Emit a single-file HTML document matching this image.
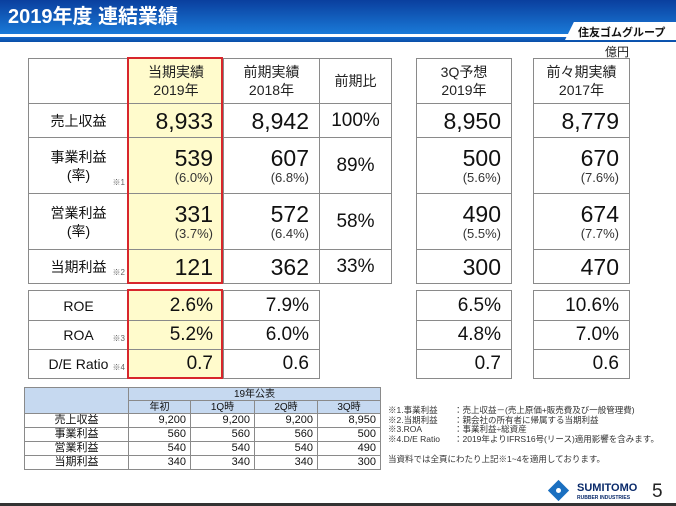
<!DOCTYPE html>
<html><head><meta charset="utf-8"><style>
body{margin:0;width:676px;height:506px;position:relative;background:#fff;overflow:hidden;font-family:"Liberation Sans","Noto Sans CJK JP",sans-serif;color:#111}
.a{position:absolute}
table{position:absolute;border-collapse:collapse;table-layout:fixed}
td{border:1px solid #8a8a8a;padding:0;box-sizing:border-box}
.m td{font-size:23px;text-align:right;padding-right:10px;line-height:24px}
.m td.p{font-size:19px}
.m td.l{font-size:14px;text-align:center;padding:0;line-height:18px;position:relative}
.m td.h{font-size:14px;text-align:center;padding:0;line-height:18px;color:#222}
.m td.r{text-align:center;padding:0;font-size:19px}
.s{font-size:13px;color:#333;display:block;line-height:16px}
.y{background:#fffbcc}
.n{position:absolute;font-size:8px;color:#666;right:3px;bottom:1px}
.b td{font-size:11px;text-align:right;padding-right:4px;line-height:11px;overflow:hidden}
.b td.l{text-align:center;padding:0;font-size:11px}
.b td.h{background:#c6d9f0;text-align:center;padding:0;font-size:10px}
</style></head><body>
<div class="a" style="left:0;top:0;width:676px;height:34px;background:linear-gradient(#0a3f9e,#1a7ad8)"></div>
<div class="a" style="left:0;top:37px;width:676px;height:5px;background:linear-gradient(#1468c8,#0a4fa8)"></div>
<div class="a" style="left:8px;top:5px;color:#fff;font-size:20px;font-weight:bold;line-height:24px">2019年度 連結業績</div>
<div class="a" style="left:565px;top:22px;width:111px;height:18px;background:#fff;clip-path:polygon(8% 0,100% 0,100% 100%,0 100%)"></div>
<div class="a" style="left:578px;top:24px;font-size:11px;font-weight:bold;color:#111">住友ゴムグループ</div>
<div class="a" style="left:605px;top:43px;font-size:12px;color:#222">億円</div>

<table class="m" style="left:28px;top:58px;width:363px">
<colgroup><col style="width:100px"><col style="width:95px"><col style="width:96px"><col style="width:72px"></colgroup>
<tr style="height:45px"><td></td><td class="h y">当期実績<br>2019年</td><td class="h">前期実績<br>2018年</td><td class="h">前期比</td></tr>
<tr style="height:34px"><td class="l">売上収益</td><td class="y">8,933</td><td>8,942</td><td class="r">100%</td></tr>
<tr style="height:56px"><td class="l">事業利益<br>(率)<span class="n">※1</span></td><td class="y">539<span class="s">(6.0%)</span></td><td>607<span class="s">(6.8%)</span></td><td class="r">89%</td></tr>
<tr style="height:56px"><td class="l">営業利益<br>(率)</td><td class="y">331<span class="s">(3.7%)</span></td><td>572<span class="s">(6.4%)</span></td><td class="r">58%</td></tr>
<tr style="height:34px"><td class="l">当期利益<span class="n">※2</span></td><td class="y">121</td><td>362</td><td class="r">33%</td></tr>
</table>
<table class="m" style="left:28px;top:290px;width:291px">
<colgroup><col style="width:100px"><col style="width:95px"><col style="width:96px"></colgroup>
<tr style="height:30px"><td class="l">ROE</td><td class="y p">2.6%</td><td class="p">7.9%</td></tr>
<tr style="height:29px"><td class="l">ROA<span class="n">※3</span></td><td class="y p">5.2%</td><td class="p">6.0%</td></tr>
<tr style="height:29px"><td class="l">D/E Ratio<span class="n">※4</span></td><td class="y p">0.7</td><td class="p">0.6</td></tr>
</table>
<div class="a" style="left:127px;top:57px;width:96px;height:227px;border:2px solid #d8262c;box-sizing:border-box"></div>
<div class="a" style="left:127px;top:289px;width:96px;height:90px;border:2px solid #d8262c;box-sizing:border-box"></div>

<table class="m" style="left:416px;top:58px;width:96px">
<tr style="height:45px"><td class="h">3Q予想<br>2019年</td></tr>
<tr style="height:34px"><td>8,950</td></tr>
<tr style="height:56px"><td>500<span class="s">(5.6%)</span></td></tr>
<tr style="height:56px"><td>490<span class="s">(5.5%)</span></td></tr>
<tr style="height:34px"><td>300</td></tr>
</table>
<table class="m" style="left:416px;top:290px;width:96px">
<tr style="height:30px"><td class="p">6.5%</td></tr>
<tr style="height:29px"><td class="p">4.8%</td></tr>
<tr style="height:29px"><td class="p">0.7</td></tr>
</table>
<table class="m" style="left:533px;top:58px;width:97px">
<tr style="height:45px"><td class="h">前々期実績<br>2017年</td></tr>
<tr style="height:34px"><td>8,779</td></tr>
<tr style="height:56px"><td>670<span class="s">(7.6%)</span></td></tr>
<tr style="height:56px"><td>674<span class="s">(7.7%)</span></td></tr>
<tr style="height:34px"><td>470</td></tr>
</table>
<table class="m" style="left:533px;top:290px;width:97px">
<tr style="height:30px"><td class="p">10.6%</td></tr>
<tr style="height:29px"><td class="p">7.0%</td></tr>
<tr style="height:29px"><td class="p">0.6</td></tr>
</table>

<table class="b" style="left:24px;top:387px;width:356px">
<colgroup><col style="width:104px"><col style="width:62px"><col style="width:64px"><col style="width:63px"><col style="width:63px"></colgroup>
<tr style="height:13px"><td class="h" rowspan="2"></td><td class="h" colspan="4">19年公表</td></tr>
<tr style="height:13px"><td class="h">年初</td><td class="h">1Q時</td><td class="h">2Q時</td><td class="h">3Q時</td></tr>
<tr style="height:14px"><td class="l">売上収益</td><td>9,200</td><td>9,200</td><td>9,200</td><td>8,950</td></tr>
<tr style="height:14px"><td class="l">事業利益</td><td>560</td><td>560</td><td>560</td><td>500</td></tr>
<tr style="height:14px"><td class="l">営業利益</td><td>540</td><td>540</td><td>540</td><td>490</td></tr>
<tr style="height:14px"><td class="l">当期利益</td><td>340</td><td>340</td><td>340</td><td>300</td></tr>
</table>

<div class="a" style="left:388px;top:406px;font-size:8.5px;line-height:9.7px;color:#333;white-space:nowrap">
<div><span style="display:inline-block;width:66px">※1.事業利益</span>：売上収益－(売上原価+販売費及び一般管理費)</div>
<div><span style="display:inline-block;width:66px">※2.当期利益</span>：親会社の所有者に帰属する当期利益</div>
<div><span style="display:inline-block;width:66px">※3.ROA</span>：事業利益÷総資産</div>
<div><span style="display:inline-block;width:66px">※4.D/E Ratio</span>：2019年よりIFRS16号(リース)適用影響を含みます。</div>
<div style="margin-top:10px">当資料では全頁にわたり上記※1~4を適用しております。</div>
</div>

<div class="a" style="left:551px;top:483px;width:15px;height:15px;background:#1a6fc0;transform:rotate(45deg)"></div>
<div class="a" style="left:556px;top:488px;width:5px;height:5px;background:#fff;border-radius:50%"></div>
<div class="a" style="left:577px;top:482px;font-size:11px;font-weight:bold;color:#0a2a6a;line-height:12px">SUMITOMO</div>
<div class="a" style="left:577px;top:495px;font-size:5px;font-weight:bold;color:#0a2a6a;line-height:6px">RUBBER INDUSTRIES</div>
<div class="a" style="left:652px;top:481px;font-size:19px;color:#222">5</div>
<div class="a" style="left:0;top:503px;width:676px;height:3px;background:#333"></div>
</body></html>
